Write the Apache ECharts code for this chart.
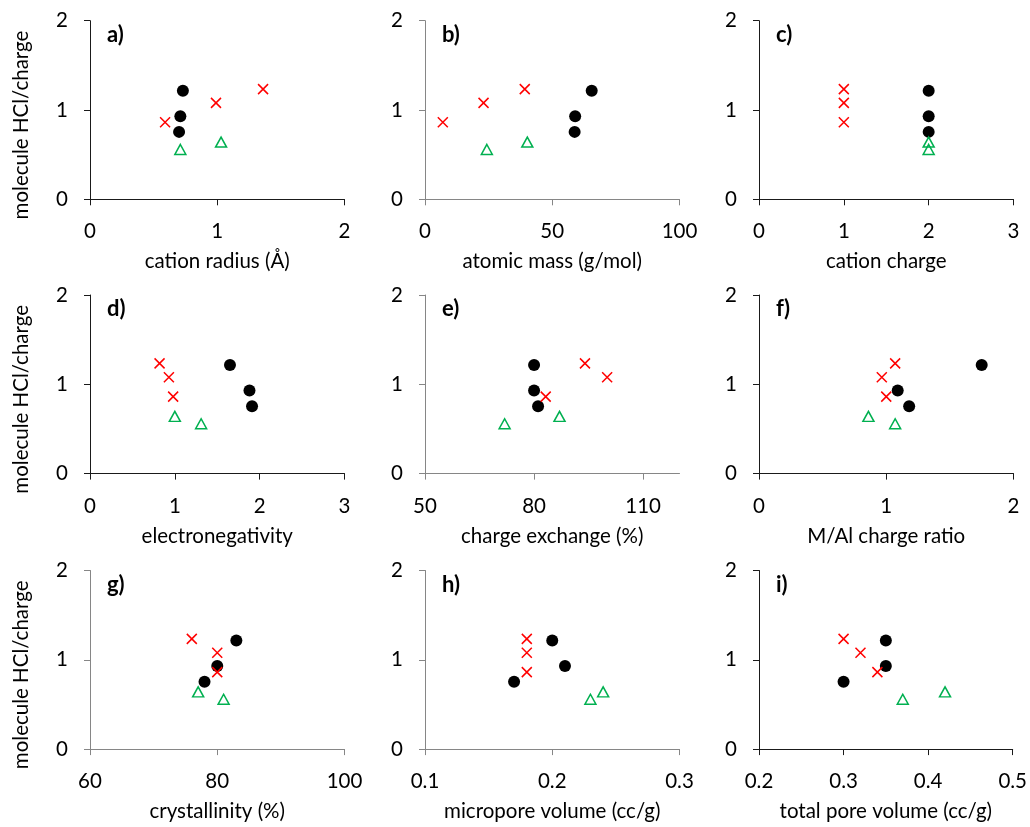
<!DOCTYPE html>
<html><head><meta charset="utf-8">
<script src="https://cdn.jsdelivr.net/npm/echarts@6/dist/echarts.min.js"></script>
<style>html,body{margin:0;padding:0;background:#fff}#c{width:1030px;height:827px}</style>
</head><body><div id="c"></div>
<script>
// ---- shared y values (molecule HCl / charge) ----
const yCircle   = [1.215, 0.93, 0.755];
const yCross    = [0.862, 1.08, 1.234];
const yTriangle = [0.558, 0.641];

// ---- x values per panel ----
const radiusCircle = [0.73, 0.71, 0.70], radiusCross = [0.59, 0.99, 1.36], radiusTriangle = [0.71, 1.03];
const massCircle = [65.5, 59.0, 58.8], massCross = [7.0, 23.0, 39.2], massTriangle = [24.3, 40.2];
const chargeCircle = [2, 2, 2], chargeCross = [1, 1, 1], chargeTriangle = [2, 2];
const enCircle = [1.65, 1.88, 1.91], enCross = [0.98, 0.93, 0.82], enTriangle = [1.31, 1.00];
const exchCircle = [80.0, 80.0, 81.1], exchCross = [83.2, 100.1, 94.0], exchTriangle = [71.9, 87.0];
const ratioCircle = [1.75, 1.09, 1.18], ratioCross = [1.00, 0.965, 1.07], ratioTriangle = [1.07, 0.86];
const crystCircle = [83, 80, 78], crystCross = [80, 80, 76], crystTriangle = [81, 77];
const microCircle = [0.20, 0.21, 0.17], microCross = [0.18, 0.18, 0.18], microTriangle = [0.23, 0.24];
const totalCircle = [0.35, 0.35, 0.30], totalCross = [0.34, 0.32, 0.30], totalTriangle = [0.37, 0.42];

// ---- labels & ticks ----
const panelLetters = ['a)', 'b)', 'c)', 'd)', 'e)', 'f)', 'g)', 'h)', 'i)'];
const xTitles = ['cation radius (Å)', 'atomic mass (g/mol)', 'cation charge', 'electronegativity',
  'charge exchange (%)', 'M/Al charge ratio', 'crystallinity (%)', 'micropore volume (cc/g)', 'total pore volume (cc/g)'];
const yTitle = 'molecule HCl/charge';
const xTicks = [[0, 1, 2], [0, 50, 100], [0, 1, 2, 3], [0, 1, 2, 3], [50, 80, 110], [0, 1, 2], [60, 80, 100], [0.1, 0.2, 0.3], [0.2, 0.3, 0.4, 0.5]];
const xRanges = [[0, 2], [0, 100], [0, 3], [0, 3], [50, 120], [0, 2], [60, 100], [0.1, 0.3], [0.2, 0.5]];
const yTicks = [0, 1, 2];

const circleX = [radiusCircle, massCircle, chargeCircle, enCircle, exchCircle, ratioCircle, crystCircle, microCircle, totalCircle];
const crossX = [radiusCross, massCross, chargeCross, enCross, exchCross, ratioCross, crystCross, microCross, totalCross];
const triangleX = [radiusTriangle, massTriangle, chargeTriangle, enTriangle, exchTriangle, ratioTriangle, crystTriangle, microTriangle, totalTriangle];

// ---- layout ----
const colLeft = [90, 425, 759];
const rowTop = [20.7, 295, 570.5];
const gw = 254.5, gh = 178.6;
const grayAxis = [false, true, false, false, true, false, true, true, false];
const FONT = 'Lato';

const zip = (xs, ys) => xs.map((x, i) => [x, ys[i]]);

const grids = [], xAxes = [], yAxes = [], series = [], graphics = [];
for (let p = 0; p < 9; p++) {
  const r = Math.floor(p / 3), c = p % 3;
  const left = colLeft[c], top = rowTop[r];
  const axisColor = grayAxis[p] ? '#868686' : '#1a1a1a';
  grids.push({left: left, top: top, width: gw, height: gh, containLabel: false});
  xAxes.push({
    gridIndex: p, type: 'value', min: xRanges[p][0], max: xRanges[p][1],
    name: xTitles[p], nameLocation: 'middle', nameGap: 52,
    nameTextStyle: {fontFamily: FONT, fontSize: 20.5, color: '#000'},
    axisLine: {show: true, onZero: false, lineStyle: {color: axisColor, width: 1}},
    axisTick: {show: true, inside: false, length: 6, customValues: xTicks[p], lineStyle: {color: axisColor}},
    axisLabel: {customValues: xTicks[p], margin: 22, fontFamily: FONT, fontSize: 20.5, color: '#000'},
    splitLine: {show: false}
  });
  yAxes.push({
    gridIndex: p, type: 'value', min: 0, max: 2,
    axisLine: {show: true, onZero: false, lineStyle: {color: axisColor, width: 1}},
    axisTick: {show: true, inside: false, length: 6, customValues: yTicks, lineStyle: {color: axisColor}},
    axisLabel: {customValues: yTicks, margin: 22, fontFamily: FONT, fontSize: 20.5, color: '#000'},
    splitLine: {show: false}
  });
  series.push({
    type: 'scatter', xAxisIndex: p, yAxisIndex: p, symbol: 'circle', symbolSize: 12,
    itemStyle: {color: '#000', opacity: 1}, data: zip(circleX[p], yCircle), silent: true
  });
  series.push({
    type: 'scatter', xAxisIndex: p, yAxisIndex: p, symbol: 'path://M0,0L10,10M0,10L10,0', symbolSize: 10,
    itemStyle: {color: 'rgba(0,0,0,0)', borderColor: '#ff0000', borderWidth: 1.5, opacity: 1}, data: zip(crossX[p], yCross), silent: true
  });
  series.push({
    type: 'scatter', xAxisIndex: p, yAxisIndex: p, symbol: 'triangle', symbolSize: [11, 10],
    itemStyle: {color: 'rgba(0,0,0,0)', borderColor: '#00b050', borderWidth: 1.5, opacity: 1}, data: zip(triangleX[p], yTriangle), silent: true
  });
  graphics.push({
    type: 'text', x: left + 17, y: top + 14, silent: true,
    style: {text: panelLetters[p], font: 'bold 22px ' + FONT, fill: '#000', align: 'left', verticalAlign: 'middle'}
  });
  if (c === 0) {
    graphics.push({
      type: 'text', x: 21, y: top + gh / 2 + 15, rotation: Math.PI / 2, silent: true,
      style: {text: yTitle, font: '20.5px ' + FONT, fill: '#000', align: 'center', verticalAlign: 'middle'}
    });
  }
}

const chart = echarts.init(document.getElementById('c'), null, {renderer: 'canvas'});
chart.setOption({
  animation: false,
  backgroundColor: '#fff',
  grid: grids, xAxis: xAxes, yAxis: yAxes, series: series, graphic: graphics
});
</script></body></html>
